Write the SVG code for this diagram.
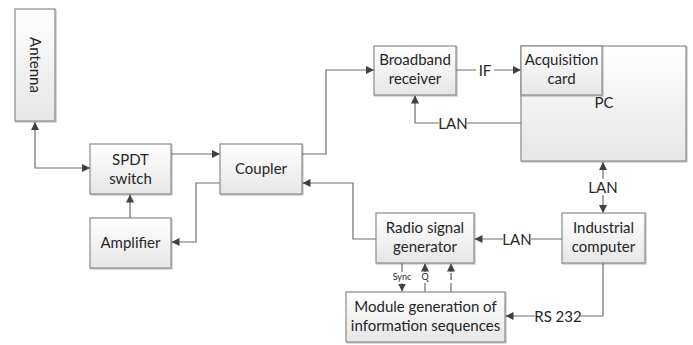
<svg xmlns="http://www.w3.org/2000/svg" width="693" height="345" viewBox="0 0 693 345">
<defs>
<linearGradient id="g" x1="0" y1="0" x2="0" y2="1">
<stop offset="0" stop-color="#ffffff"/>
<stop offset="1" stop-color="#e6e6e6"/>
</linearGradient>
<filter id="sh" x="-5%" y="-5%" width="115%" height="115%">
<feDropShadow dx="1" dy="1" stdDeviation="0.6" flood-color="#000" flood-opacity="0.25"/>
</filter>
<marker id="ar" viewBox="0 0 10 10" refX="10" refY="5" markerWidth="8" markerHeight="8" markerUnits="userSpaceOnUse" orient="auto-start-reverse">
<path d="M0,0 L10,5 L0,10 z" fill="#404040"/>
</marker>
</defs>
<style>
.box{fill:url(#g);stroke:#8a8a8a;stroke-width:1.2;filter:url(#sh)}
.t{font-family:Lato,"Open Sans","Liberation Sans",sans-serif;font-size:15px;fill:#262626;text-anchor:middle}
.s{font-family:Lato,"Open Sans","Liberation Sans",sans-serif;font-size:9px;fill:#262626;text-anchor:middle}
.c{fill:none;stroke:#6e6e6e;stroke-width:1.2}
.bg{fill:#ffffff}
</style>
<rect width="693" height="345" fill="#ffffff"/>
<g id="connectors">
<path class="c" d="M35,122 V168 H90" marker-start="url(#ar)" marker-end="url(#ar)"/>
<path class="c" d="M171,154 H220" marker-end="url(#ar)"/>
<path class="c" d="M302,154 H326 V70 H374" marker-end="url(#ar)"/>
<path class="c" d="M456,70 H521" marker-end="url(#ar)"/>
<path class="c" d="M521,123 H415 V95.5" marker-end="url(#ar)"/>
<path class="c" d="M603,162 V213" marker-start="url(#ar)" marker-end="url(#ar)"/>
<path class="c" d="M562,239 H474.5" marker-end="url(#ar)"/>
<path class="c" d="M376,239 H353 V183 H302.5" marker-end="url(#ar)"/>
<path class="c" d="M220,183 H196 V242 H171.5" marker-end="url(#ar)"/>
<path class="c" d="M130,218 V194.5" marker-end="url(#ar)"/>
<path class="c" d="M603,263 V316 H505.5" marker-end="url(#ar)"/>
<path class="c" d="M402,263 V291.5" marker-end="url(#ar)"/>
<path class="c" d="M425,292 V263.5" marker-end="url(#ar)"/>
<path class="c" d="M451,292 V263.5" marker-end="url(#ar)"/>
<rect class="bg" x="476" y="62" width="18" height="16"/>
<text class="t" x="485" y="75.5">IF</text>
<rect class="bg" x="439" y="115" width="28" height="16"/>
<text class="t" x="453" y="128.5">LAN</text>
<rect class="bg" x="589" y="179" width="28" height="16"/>
<text class="t" x="603" y="192.5">LAN</text>
<rect class="bg" x="503" y="231" width="28" height="16"/>
<text class="t" x="517" y="244.5">LAN</text>
<rect class="bg" x="535" y="308" width="46" height="16"/>
<text class="t" x="558" y="321.5">RS 232</text>
<rect class="bg" x="392" y="272" width="20" height="11"/>
<text class="s" x="402" y="280">Sync</text>
<rect class="bg" x="421" y="272" width="8" height="11"/>
<text class="s" x="425" y="280">Q</text>
<rect class="bg" x="448" y="272" width="6" height="11"/>
<text class="s" x="451" y="280">I</text>
</g>
<g id="antenna">
<rect class="box" x="15" y="9" width="40" height="112"/>
<text class="t" x="0" y="0" transform="translate(30,65) rotate(90)">Antenna</text>
</g>
<g id="spdt">
<rect class="box" x="90" y="144" width="81" height="50"/>
<text class="t" x="130.5" y="165">SPDT</text>
<text class="t" x="130.5" y="184">switch</text>
</g>
<g id="coupler">
<rect class="box" x="220" y="144" width="82" height="50"/>
<text class="t" x="261" y="174">Coupler</text>
</g>
<g id="amplifier">
<rect class="box" x="90" y="218" width="81" height="50"/>
<text class="t" x="130.5" y="248">Amplifier</text>
</g>
<g id="broadband">
<rect class="box" x="374" y="46" width="82" height="49"/>
<text class="t" x="415" y="65">Broadband</text>
<text class="t" x="415" y="84">receiver</text>
</g>
<g id="pc">
<rect class="box" x="521" y="46" width="165" height="115"/>
<text class="t" x="604" y="108">PC</text>
</g>
<g id="acquisition">
<rect class="box" x="521" y="46" width="81" height="49"/>
<text class="t" x="561.5" y="65">Acquisition</text>
<text class="t" x="561.5" y="84">card</text>
</g>
<g id="radio">
<rect class="box" x="376" y="213" width="98" height="50"/>
<text class="t" x="425" y="233">Radio signal</text>
<text class="t" x="425" y="252">generator</text>
</g>
<g id="industrial">
<rect class="box" x="562" y="213" width="83" height="50"/>
<text class="t" x="603.5" y="233">Industrial</text>
<text class="t" x="603.5" y="252">computer</text>
</g>
<g id="module">
<rect class="box" x="346" y="292" width="159" height="50"/>
<text class="t" x="425.5" y="312">Module generation of</text>
<text class="t" x="425.5" y="331">information sequences</text>
</g>
</svg>
